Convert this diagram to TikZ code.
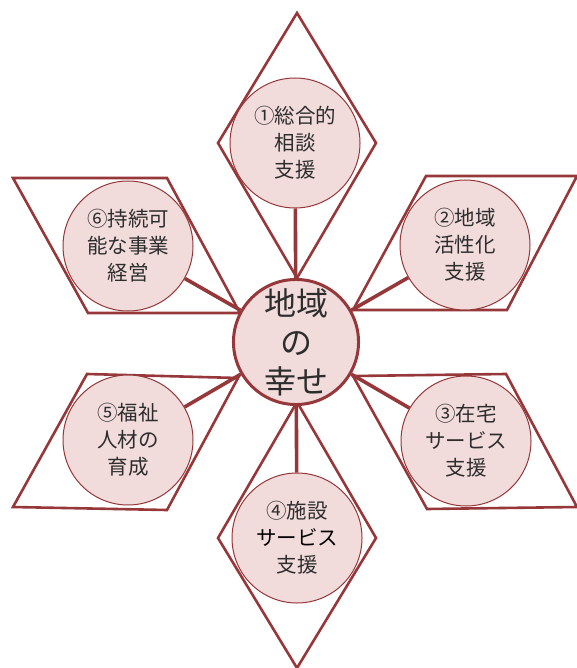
\documentclass[tikz,border=0pt]{standalone}
\usepackage{fontspec}
\newfontfamily\cjk{Noto Sans CJK JP}
\definecolor{lred}{RGB}{150,55,58}
\definecolor{pinkf}{RGB}{242,220,219}
\definecolor{txt}{RGB}{45,45,45}
\begin{document}
\begin{tikzpicture}[x=1pt,y=-1pt,
  frame/.style={draw=lred, line width=2.6pt, line join=miter},
  link/.style={draw=lred, line width=3.6pt},
  sat/.style={circle, fill=pinkf, draw=lred, line width=1pt, minimum size=130pt,
    inner sep=0pt, align=center, text=txt, font=\cjk\fontsize{20.5}{27}\selectfont},
  hub/.style={circle, fill=pinkf, draw=lred, line width=3pt, minimum size=124pt,
    inner sep=0pt, align=center, text=txt, font=\cjk\fontsize{32}{39}\selectfont}]
\useasboundingbox (0,0) rectangle (577,668);
% frames
\draw[frame] (297,13) -- (376,143) -- (297,278) -- (218,143) -- cycle;
\draw[frame] (297,402) -- (376,538) -- (297,668) -- (218,538) -- cycle;
\draw[frame] (353,310) -- (507,310) -- (577,176) -- (426,176) -- cycle;
\draw[frame] (353,376) -- (506,374) -- (577,507) -- (427,509) -- cycle;
\draw[frame] (240,313) -- (88,313) -- (13,178) -- (167,178) -- cycle;
\draw[frame] (238,378) -- (87,374) -- (13,507) -- (167,510) -- cycle;
% nodes
\node[hub] (c) at (296,342) {地域\\の\\幸せ};
\node[sat] (s1) at (295,143) {①総合的\\相談\\支援};
\node[sat] (s2) at (465,245) {②地域\\活性化\\支援};
\node[sat] (s3) at (466,441) {③在宅\\サービス\\支援};
\node[sat] (s4) at (297,538) {④施設\\\textcolor{black}{サービス}\\支援};
\node[sat] (s5) at (128,440) {⑤福祉\\人材の\\育成};
\node[sat] (s6) at (128,246) {⑥持続可\\能な事業\\経営};
% links
\foreach \s in {s1,s2,s3,s4,s5,s6} \draw[link] (c) -- (\s);
\end{tikzpicture}
\end{document}
